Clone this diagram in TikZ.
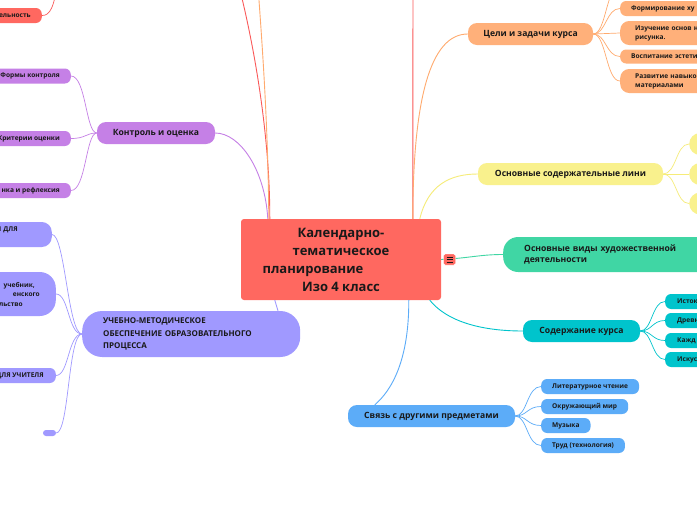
\documentclass[tikz,border=0pt]{standalone}
\usepackage{fontspec}
\setmainfont{Open Sans}
\definecolor{cred}{RGB}{255,104,96}
\definecolor{lred}{RGB}{250,88,88}
\definecolor{cpurple}{RGB}{197,128,230}
\definecolor{clav}{RGB}{160,153,255}
\definecolor{corange}{RGB}{255,176,122}
\definecolor{lorange}{RGB}{255,170,110}
\definecolor{cyellow}{RGB}{249,241,141}
\definecolor{lyellow}{RGB}{246,236,120}
\definecolor{cgreen}{RGB}{64,214,164}
\definecolor{cteal}{RGB}{0,196,204}
\definecolor{cblue}{RGB}{92,172,248}
\definecolor{ink}{RGB}{25,25,25}
\newcommand{\gapr}[1]{\rule{#1}{0pt}}
\tikzset{
  mmbox/.style={inner sep=0pt, text=ink},
  mmmid/.style={mmbox, font=\bfseries\fontsize{8.6}{10.5}\selectfont, minimum height=22pt, rounded corners=9pt},
  mmleaf/.style={mmbox, font=\bfseries\fontsize{6.6}{9}\selectfont, minimum height=15pt, rounded corners=6pt, inner xsep=11pt},
  mmlink/.style={line width=0.9pt},
  mmsub/.style={line width=0.7pt},
}
\begin{document}
\begin{tikzpicture}[x=1pt,y=-1pt]
\useasboundingbox (0,0) rectangle (697,520);
\fill[white] (0,0) rectangle (697,520);

% central
\node[mmbox, fill=cred, rounded corners=3pt, minimum width=200pt, minimum height=81pt, align=center, font=\bfseries\fontsize{13}{18}\selectfont] (root) at (341,259.5) {Календарно-\\тематическое\\планирование\gapr{56pt}\\Изо 4 класс};

% left: control
\node[mmmid, fill=cpurple, minimum width=118pt] (ctrl) at (156,133) {Контроль и оценка};
\node[mmleaf, fill=cpurple, anchor=east] (f1) at (71,76) {Формы контроля};
\node[mmleaf, fill=cpurple, anchor=east] (f2) at (71,138.5) {Критерии оценки};
\node[mmleaf, fill=cpurple, anchor=east] (f3) at (71,190.5) {нка и рефлексия};

% top-left red
\node[mmleaf, fill=cred, anchor=east] (act) at (42,15.5) {ельность};
\coordinate (acttop) at (58,-20);

% УМО
\node[mmbox, fill=clav, anchor=west, minimum height=46pt, rounded corners=20pt, text width=176pt, inner xsep=21pt, align=left, font=\bfseries\fontsize{8}{12.5}\selectfont] (umo) at (82,334) {УЧЕБНО-МЕТОДИЧЕСКОЕ\\ОБЕСПЕЧЕНИЕ ОБРАЗОВАТЕЛЬНОГО\\ПРОЦЕССА};
\node[mmleaf, fill=clav, anchor=east, inner xsep=0pt, text width=80pt, align=right, minimum height=25pt, rounded corners=10pt] (u1) at (52,234.5) {И ДЛЯ\gapr{34pt}\\\strut};
\node[mmleaf, fill=clav, anchor=east, inner xsep=0pt, text width=80pt, align=right, minimum height=44pt, rounded corners=16pt, font=\bfseries\fontsize{6.6}{9.5}\selectfont] (u2) at (56,294) {учебник,\gapr{21pt}\\енского\gapr{16pt}\\льство\gapr{33pt}};
\node[mmleaf, fill=clav, anchor=east, inner xsep=12pt] (u3) at (56,375.5) {ДЛЯ УЧИТЕЛЯ};
\node[mmbox, fill=clav, minimum width=13pt, minimum height=6pt, rounded corners=3pt] (u4) at (49.5,433) {};

% right: goals
\node[mmmid, fill=corange, minimum width=125pt] (goal) at (530.5,34) {Цели и задачи курса};
\node[mmleaf, fill=corange, anchor=west, text width=100pt, align=left, minimum height=15pt] (g1) at (620,8.5) {Формирование ху};
\node[mmleaf, fill=corange, anchor=west, text width=100pt, align=left, inner xsep=15pt, minimum height=24pt, rounded corners=9pt] (g2) at (620,33) {Изучение основ н\\рисунка.};
\node[mmleaf, fill=corange, anchor=west, text width=100pt, align=left, minimum height=14pt] (g3) at (620,56.5) {Воспитание эстети};
\node[mmleaf, fill=corange, anchor=west, text width=100pt, align=left, inner xsep=15pt, minimum height=24pt, rounded corners=9pt] (g4) at (620,81) {Развитие навыко\\материалами};
\coordinate (gtop) at (620,-14);

% yellow
\node[mmmid, fill=cyellow, minimum width=185pt] (lines) at (570.5,174) {Основные содержательные лини};
\node[mmbox, fill=cyellow, anchor=west, minimum width=40pt, minimum height=22pt, rounded corners=11pt] (y1) at (689,144) {};
\node[mmbox, fill=cyellow, anchor=west, minimum width=40pt, minimum height=22pt, rounded corners=11pt] (y2) at (689,174) {};
\node[mmbox, fill=cyellow, anchor=west, minimum width=40pt, minimum height=22pt, rounded corners=11pt] (y3) at (689,203.5) {};

% green
\node[mmbox, fill=cgreen, anchor=west, text width=200pt, inner xsep=21pt, minimum height=35pt, rounded corners=15pt, align=left, font=\bfseries\fontsize{8.6}{11}\selectfont] (kinds) at (503,254.5) {Основные виды художественной\\деятельности};

% teal
\node[mmmid, fill=cteal, minimum width=117pt] (cont) at (581.5,331) {Содержание курса};
\node[mmleaf, fill=cteal, anchor=west, text width=60pt, align=left, inner xsep=12pt] (t1) at (665,301.5) {Исток};
\node[mmleaf, fill=cteal, anchor=west, text width=60pt, align=left, inner xsep=12pt] (t2) at (665,320.5) {Древн};
\node[mmleaf, fill=cteal, anchor=west, text width=60pt, align=left, inner xsep=12pt] (t3) at (665,340.5) {Кажд};
\node[mmleaf, fill=cteal, anchor=west, text width=60pt, align=left, inner xsep=12pt] (t4) at (665,359.5) {Искус};

% blue
\node[mmmid, fill=cblue, minimum width=167pt] (links) at (431.5,416) {Связь с другими предметами};
\node[mmleaf, fill=cblue, anchor=west] (b1) at (541,386.5) {Литературное чтение};
\node[mmleaf, fill=cblue, anchor=west] (b2) at (541,406.5) {Окружающий мир};
\node[mmleaf, fill=cblue, anchor=west] (b3) at (541,425.5) {Музыка};
\node[mmleaf, fill=cblue, anchor=west] (b4) at (541,445.5) {Труд (технология)};

% top off-page ends
\coordinate (topA) at (232,-40);
\coordinate (topB) at (256,-40);
\coordinate (topC) at (413,-40);

% main connectors
\draw[mmlink, cpurple] ([xshift=27pt]root.north west) .. controls (265,170) and (240,133) .. (ctrl.east);
\draw[mmlink, lred] ([xshift=29pt]root.north west) .. controls (270,130) and (252,30) .. (topA);
\draw[mmlink, lorange] ([xshift=28pt]root.north west) .. controls (268,120) and (262,40) .. (topB);
\draw[mmlink, lred] ([xshift=172pt]root.north west) -- (topC);
\draw[mmlink, lorange] ([xshift=172pt]root.north west) .. controls (413,100) and (430,34) .. (goal.west);
\draw[mmlink, lyellow] ([xshift=179pt]root.north west) .. controls (428,185) and (450,174) .. (lines.west);
\draw[mmlink, cgreen] (root.east) .. controls (470,258) and (480,254.5) .. (kinds.west);
\draw[mmlink, cteal] ([xshift=189pt]root.south west) .. controls (450,325) and (490,331) .. (cont.west);
\draw[mmlink, cblue] ([xshift=168pt]root.south west) .. controls (409,360) and (392,390) .. ([xshift=27pt]links.north west);
\draw[mmlink, clav] ([xshift=34pt]root.south west) -- ([xshift=196pt]umo.north west);
\draw[mmsub, lred] (act.east) .. controls (50,15.5) and (54,8) .. (acttop);

% sub connectors
\foreach \c in {f1,f2,f3} \draw[mmsub, cpurple] (ctrl.west) .. controls +(-11,0) and +(15,0) .. (\c.east);
\foreach \c in {u1,u2,u3,u4} \draw[mmsub, clav] (umo.west) .. controls +(-14,0) and +(13,0) .. (\c.east);
\foreach \c in {g1,g2,g3,g4} \draw[mmsub, lorange] (goal.east) .. controls +(13,0) and +(-14,0) .. (\c.west);
\draw[mmsub, lorange] (goal.east) .. controls +(13,0) and +(-14,0) .. (gtop);
\foreach \c in {y1,y2,y3} \draw[mmsub, lyellow] (lines.east) .. controls +(13,0) and +(-13,0) .. (\c.west);
\foreach \c in {t1,t2,t3,t4} \draw[mmsub, cteal] (cont.east) .. controls +(12,0) and +(-13,0) .. (\c.west);
\foreach \c in {b1,b2,b3,b4} \draw[mmsub, cblue] (links.east) .. controls +(12,0) and +(-14,0) .. (\c.west);

% note icon
\node[mmbox, fill=cred, draw=white, line width=0.4pt, minimum width=12pt, minimum height=11pt, rounded corners=1.5pt] (note) at (449.5,259.5) {};
\foreach \d in {-2.5,0,2.5} \draw[ink, line width=0.7pt] ([shift={(-3,\d)}]note.center) -- ++(6,0);
\end{tikzpicture}
\end{document}
